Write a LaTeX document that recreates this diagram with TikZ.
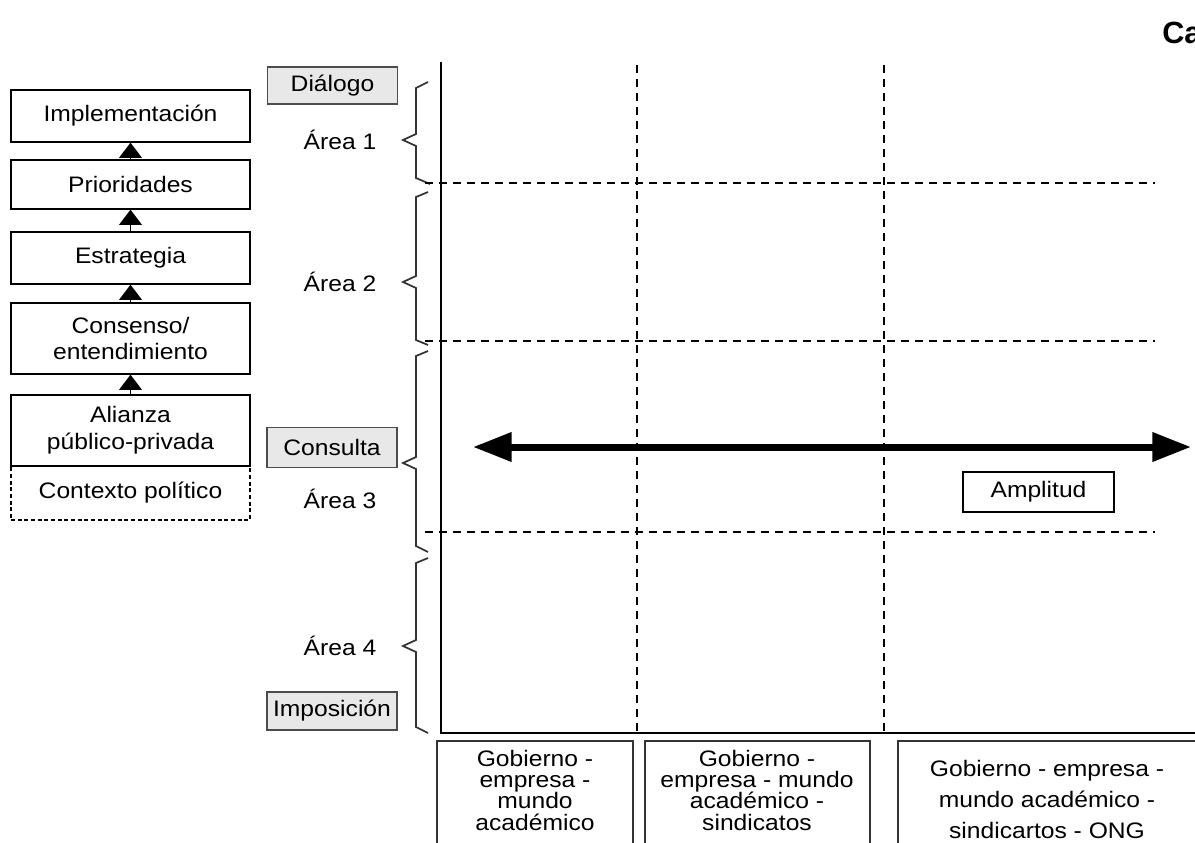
\documentclass[tikz,border=0pt]{standalone}
\usepackage{fontspec}
\setmainfont[FakeStretch=1.1]{Liberation Sans}
\newfontfamily\titlefont{Liberation Sans}
\usetikzlibrary{arrows.meta}
\tikzset{
  lbox/.style={draw, line width=0.9pt, minimum width=179.25pt, align=center, inner sep=0pt},
  gbox/.style={draw=black!70, fill=black!9, line width=0.9pt, minimum width=97.5pt, inner sep=0pt},
  plain/.style={inner sep=0pt, align=center},
  uparrow/.style={line width=1.4pt, -{Triangle[width=17pt,length=11.5pt]}},
  brace/.style={line width=1.3pt, black!80, line join=miter},
  grid/.style={line width=1.1pt, dash pattern=on 6pt off 4.5pt},
  axis/.style={line width=1.9pt},
  boxline/.style={line width=0.9pt, black!80},
  big/.style={line width=5.25pt, {Triangle[width=21pt,length=29pt]}-{Triangle[width=21pt,length=29pt]}}
}
\begin{document}
\begin{tikzpicture}[x=0.75pt,y=-0.75pt, font=\fontsize{16.8}{20}\selectfont]
\clip (0,0) rectangle (1195,842);
\fill[white] (0,0) rectangle (1195,842);

% title fragment
\node[anchor=base west, inner sep=0pt, font=\titlefont\bfseries\fontsize{23}{26}\selectfont] (title) at (1162,44) {Ca};

% left column
\node[lbox, minimum height=39pt] (impl) at (130.5,116) {Implementación};
\node[lbox, minimum height=36.75pt] (prior) at (130.5,184.5) {Prioridades};
\node[lbox, minimum height=39pt] (estr) at (130.5,258) {Estrategia};
\node[lbox, minimum height=53.25pt] (cons) at (130.5,338.5) {Consenso/\\entendimiento};
\node[lbox, minimum height=53.25pt] (ali) at (130.5,430.5) {Alianza\\público-privada};
\node[lbox, dash pattern=on 3pt off 2pt, minimum height=40.5pt] (ctx) at (130.5,493) {Contexto político};

\draw[uparrow] (ali.north) -- (cons.south);
\draw[uparrow] (cons.north) -- (estr.south);
\draw[uparrow] (estr.north) -- (prior.south);
\draw[uparrow] (prior.north) -- (impl.south);

% middle labels
\node[gbox, minimum height=27.75pt] (dial) at (332.5,85.5) {Diálogo};
\node[gbox, minimum height=30pt] (consu) at (332,447.5) {Consulta};
\node[gbox, minimum height=28.5pt] (impo) at (332,711) {Imposición};
\node[plain] (a1) at (340,140) {Área 1};
\node[plain] (a2) at (340,282) {Área 2};
\node[plain] (a3) at (340,499) {Área 3};
\node[plain] (a4) at (340,646) {Área 4};

% braces
\draw[brace] (428,82) -- (416,88) -- (416,134) -- (403,140) -- (416,146) -- (416,178) -- (430,184);
\draw[brace] (428,192) -- (416,197) -- (416,276) -- (403,282) -- (416,288) -- (416,340) -- (428,345);
\draw[brace] (428,351) -- (416,356) -- (416,457) -- (403,463) -- (416,469) -- (416,546) -- (428,552);
\draw[brace] (428,558) -- (416,563) -- (416,640) -- (403,646) -- (416,652) -- (416,727) -- (428,733);

% grid
\draw[grid] (637,65) -- (637,733);
\draw[grid] (884,65) -- (884,733);
\draw[grid] (425,183) -- (1155,183);
\draw[grid] (425,341) -- (1155,341);
\draw[grid] (425,532) -- (1155,532);

% axes
\coordinate (ytop) at (441,62);
\coordinate (orig) at (441,733);
\coordinate (xend) at (1200,733);
\draw[axis] (ytop) -- (orig) -- (xend);

% big arrow
\coordinate (aL) at (473,447);
\coordinate (aR) at (1191,447);
\draw[big] (aL) -- (aR);

\node[draw, line width=0.9pt, minimum width=113.25pt, minimum height=30pt, inner sep=0pt] (ampl) at (1038.5,492) {Amplitud};

% bottom boxes
\draw[boxline] (437,845) -- (437,741) -- (633,741) -- (633,845);
\draw[boxline] (645,845) -- (645,741) -- (870,741) -- (870,845);
\draw[boxline] (898,845) -- (898,741) -- (1200,741);
\node[plain, font=\fontsize{16.8}{16}\selectfont] (g1) at (535,790) {Gobierno -\\empresa -\\mundo\\académico};
\node[plain, font=\fontsize{16.8}{16}\selectfont] (g2) at (757,790) {Gobierno -\\empresa - mundo\\académico -\\sindicatos};
\node[plain, font=\fontsize{16.8}{23.25}\selectfont] (g3) at (1047,799) {Gobierno - empresa -\\mundo académico -\\sindicartos - ONG};
\end{tikzpicture}
\end{document}
